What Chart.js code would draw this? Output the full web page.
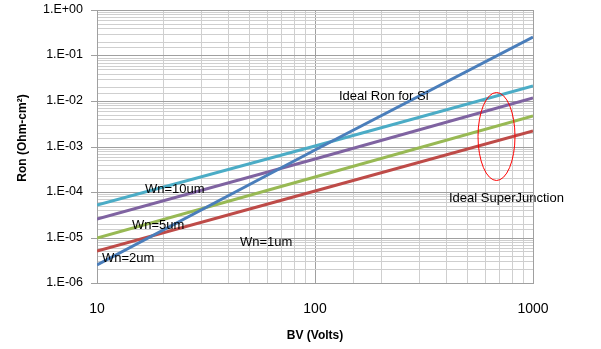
<!DOCTYPE html>
<html>
<head>
<meta charset="utf-8">
<script src="https://cdn.jsdelivr.net/npm/chart.js@4.4.0/dist/chart.umd.min.js"></script>
<style>
    html, body { margin: 0; padding: 0; background: #fff; }
    #wrap { width: 601px; height: 349px; position: relative; }
</style>
</head>
<body>
<div id="wrap"><canvas id="ronChart"></canvas></div>
<script>
// Breakdown voltage points (Volts)
const bvPoints = [10, 100, 1000];

// Specific on-resistance (Ohm-cm2)
const idealSi = [2.55e-6, 8.5e-4, 0.255];
const wn10 = [5.2e-5, 1.05e-3, 2.15e-2];
const wn5 = [2.55e-5, 5.4e-4, 1.15e-2];
const wn2 = [9.9e-6, 2.15e-4, 4.7e-3];
const wn1 = [5.05e-6, 1.05e-4, 2.2e-3];

const yTickLabels = ['1.E-06', '1.E-05', '1.E-04', '1.E-03', '1.E-02', '1.E-01', '1.E+00'];
const xTickLabels = ['10', '100', '1000'];

const FONT = "'Liberation Sans', Arial, sans-serif";

function isDecade(v) {
    const l = Math.log10(v);
    return Math.abs(l - Math.round(l)) < 1e-6;
}

function toPoints(ys) {
    return bvPoints.map((x, i) => ({ x: x, y: ys[i] }));
}

// Text labels and the red ellipse drawn on top of the chart
const annotations = {
    id: 'annotations',
    afterDatasetsDraw(chart) {
        const ctx = chart.ctx;
        ctx.save();
        ctx.fillStyle = '#000';
        ctx.textBaseline = 'middle';
        ctx.textAlign = 'left';
        ctx.font = '13px ' + FONT;
        ctx.fillText('Ideal Ron for Si', 339, 96);
        ctx.fillText('Wn=10um', 145, 189);
        ctx.fillText('Wn=5um', 132, 225);
        ctx.fillText('Wn=2um', 102, 258);
        ctx.fillText('Wn=1um', 240, 242);
        ctx.fillText('Ideal SuperJunction', 449, 198);

        // red ellipse around the superjunction lines
        ctx.strokeStyle = '#ff0000';
        ctx.lineWidth = 1;
        ctx.beginPath();
        ctx.ellipse(496.5, 136.5, 18.5, 44, 0, 0, Math.PI * 2);
        ctx.stroke();

        // top and right border of the plot area
        const a = chart.chartArea;
        ctx.strokeStyle = '#a0a0a0';
        ctx.beginPath();
        ctx.moveTo(Math.round(a.left), Math.round(a.top) + 0.5);
        ctx.lineTo(Math.round(a.right) + 0.5, Math.round(a.top) + 0.5);
        ctx.lineTo(Math.round(a.right) + 0.5, Math.round(a.bottom));
        ctx.stroke();

        // axis titles
        ctx.font = 'bold 12px ' + FONT;
        ctx.textAlign = 'center';
        ctx.fillText('BV (Volts)', 315, 336);
        ctx.translate(23, 138);
        ctx.rotate(-Math.PI / 2);
        ctx.fillText('Ron (Ohm-cm\u00B2)', 0, 0);
        ctx.restore();
    }
};

document.addEventListener('DOMContentLoaded', function () {
    const ctx = document.getElementById('ronChart').getContext('2d');

    const lineSet = (label, data, color) => ({
        label: label,
        data: toPoints(data),
        borderColor: color,
        backgroundColor: color,
        borderWidth: 3,
        pointRadius: 0,
        tension: 0,
        fill: false
    });

    new Chart(ctx, {
        type: 'line',
        data: {
            datasets: [
                lineSet('Ideal Ron for Si', idealSi, '#4a7ebb'),
                lineSet('Wn=10um', wn10, '#4bacc6'),
                lineSet('Wn=5um', wn5, '#7f63a1'),
                lineSet('Wn=2um', wn2, '#98b954'),
                lineSet('Wn=1um', wn1, '#be4b48')
            ]
        },
        options: {
            responsive: true,
            maintainAspectRatio: false,
            animation: false,
            layout: {
                padding: { top: 10, right: 68, left: 0, bottom: 0 }
            },
            plugins: {
                legend: { display: false },
                tooltip: { enabled: false }
            },
            scales: {
                x: {
                    type: 'logarithmic',
                    min: 10,
                    max: 1000,
                    alignToPixels: true,
                    afterFit: function (scale) {
                        scale.height = 66;
                        scale.paddingLeft = 0;
                        scale.paddingRight = 0;
                    },
                    grid: {
                        color: c => isDecade(c.tick.value) ? '#a0a0a0' : '#cfcfcf',
                        lineWidth: 1,
                        drawTicks: false
                    },
                    border: { color: '#a0a0a0' },
                    ticks: {
                        autoSkip: false,
                        maxRotation: 0,
                        padding: 18,
                        color: '#000',
                        font: { family: FONT, size: 14 },
                        callback: function (v) {
                            if (!isDecade(v)) return '';
                            const i = Math.round(Math.log10(v)) - 1;
                            return xTickLabels[i] || '';
                        }
                    }
                },
                y: {
                    type: 'logarithmic',
                    min: 1e-6,
                    max: 1,
                    alignToPixels: true,
                    afterFit: function (scale) {
                        scale.width = 97;
                        scale.paddingTop = 0;
                        scale.paddingBottom = 0;
                    },
                    grid: {
                        color: c => isDecade(c.tick.value) ? '#a0a0a0' : '#cfcfcf',
                        tickColor: c => isDecade(c.tick.value) ? '#a0a0a0' : 'rgba(0,0,0,0)',
                        tickLength: 6,
                        lineWidth: 1
                    },
                    border: { color: '#a0a0a0' },
                    ticks: {
                        autoSkip: false,
                        padding: 8,
                        color: '#000',
                        font: { family: FONT, size: 12.5 },
                        callback: function (v) {
                            if (!isDecade(v)) return '';
                            const i = Math.round(Math.log10(v)) + 6;
                            return yTickLabels[i] || '';
                        }
                    }
                }
            }
        },
        plugins: [annotations]
    });
});
</script>
</body>
</html>
